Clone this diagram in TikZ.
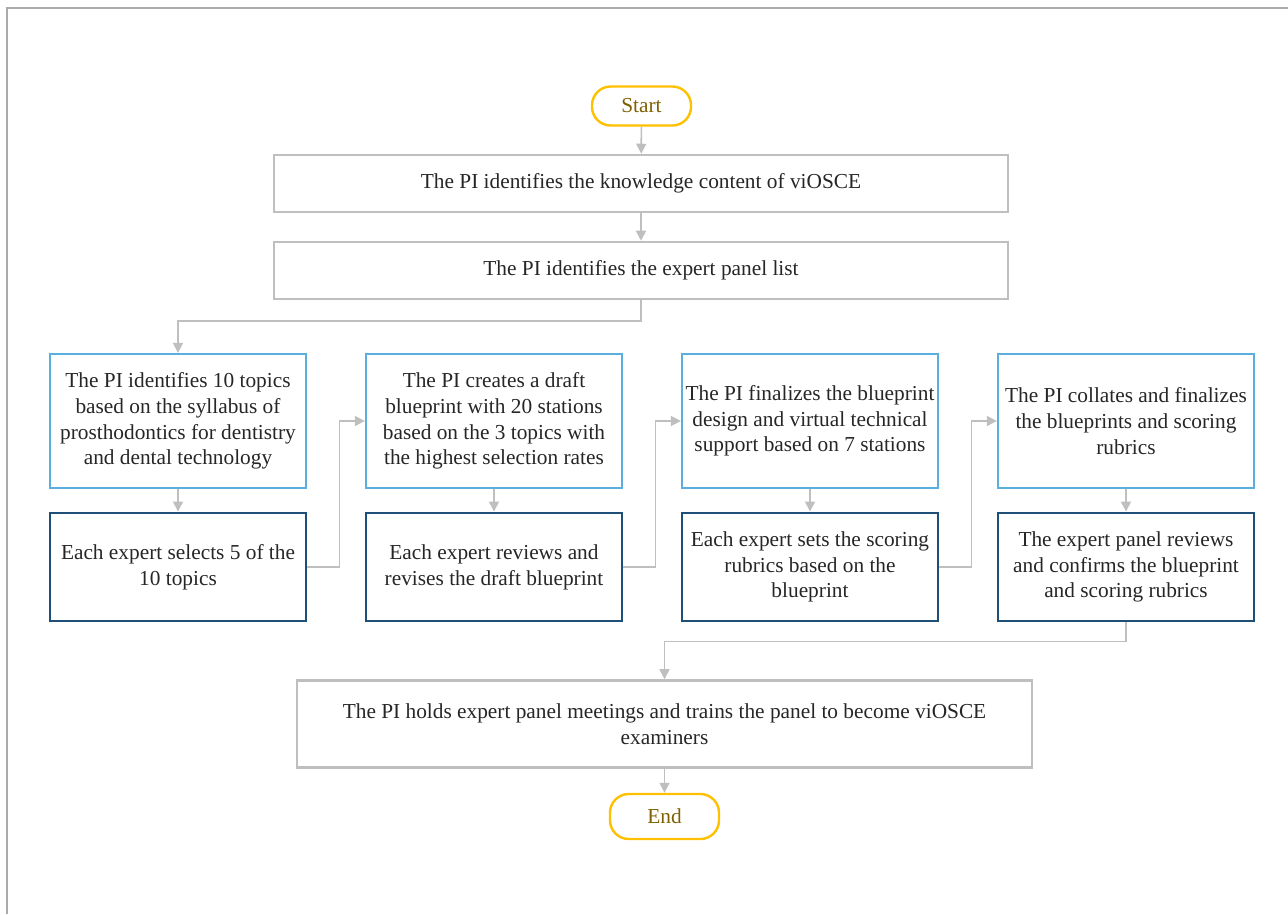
\documentclass[tikz,border=0pt]{standalone}
\usepackage{fontspec}
\setmainfont{Liberation Serif}
\usetikzlibrary{arrows.meta}
\definecolor{gbox}{HTML}{BFBFBF}
\definecolor{lblue}{HTML}{5AAFDF}
\definecolor{dblue}{HTML}{1F4E79}
\definecolor{gold}{HTML}{FFC000}
\definecolor{tbrown}{HTML}{7F6000}
\definecolor{txt}{HTML}{262626}
\definecolor{framec}{HTML}{ABABAB}
\tikzset{
  base/.style={rectangle, inner sep=0pt, align=center, text=txt,
    font=\fontsize{16}{19.3}\selectfont},
  graybox/.style={base, draw=gbox, line width=1.9pt},
  bluebox/.style={base, draw=lblue, line width=1.7pt, minimum width=192pt, minimum height=100.5pt},
  darkbox/.style={base, draw=dblue, line width=2.2pt, minimum width=192pt, minimum height=81pt},
  term/.style={base, draw=gold, line width=1.8pt, rounded corners=14pt, text=tbrown},
  conn/.style={draw=gbox, line width=1.2pt, -{Triangle[length=7.5pt,width=7.5pt]}},
}
\begin{document}
\begin{tikzpicture}[x=0.75pt, y={(0pt,-0.75pt)}]
\useasboundingbox (0,0) rectangle (1288,914);
\draw[framec, line width=0.8pt] (7,914) -- (7,8) -- (1288,8);

\node[term, minimum width=74.25pt, minimum height=29.25pt] (start) at (641.5,106) {Start};
\node[graybox, minimum width=550.5pt, minimum height=42.75pt] (k1) at (641,183.5) {The PI identifies the knowledge content of viOSCE};
\node[graybox, minimum width=550.5pt, minimum height=42.75pt] (k2) at (641,270.5) {The PI identifies the expert panel list};

\node[bluebox] (a1) at (178,421) {The PI identifies 10 topics\\based on the syllabus of\\prosthodontics for dentistry\\and dental technology};
\node[bluebox] (b1) at (494,421) {The PI creates a draft\\blueprint with 20 stations\\based on the 3 topics with\\the highest selection rates};
\node[bluebox] (c1) at (810,421) {The PI finalizes the blueprint\\design and virtual technical\\support based on 7 stations};
\node[bluebox] (d1) at (1126,421) {The PI collates and finalizes\\the blueprints and scoring\\rubrics};

\node[darkbox] (a2) at (178,567) {Each expert selects 5 of the\\10 topics};
\node[darkbox] (b2) at (494,567) {Each expert reviews and\\revises the draft blueprint};
\node[darkbox] (c2) at (810,567) {Each expert sets the scoring\\rubrics based on the\\blueprint};
\node[darkbox] (d2) at (1126,567) {The expert panel reviews\\and confirms the blueprint\\and scoring rubrics};

\node[graybox, minimum width=551.25pt, minimum height=65.25pt] (fin) at (664.5,724) {The PI holds expert panel meetings and trains the panel to become viOSCE\\examiners};
\node[term, minimum width=81.75pt, minimum height=33.75pt] (end) at (664.5,816.5) {End};

\draw[conn] (start) -- (k1);
\draw[conn] (k1) -- (k2);
\draw[conn] (k2.south) -- ++(0,21) -| (a1.north);
\draw[conn] (a1) -- (a2);
\draw[conn] (b1) -- (b2);
\draw[conn] (c1) -- (c2);
\draw[conn] (d1) -- (d2);
\draw[conn] (a2.east) -- ++(32,0) |- (b1.west);
\draw[conn] (b2.east) -- ++(32,0) |- (c1.west);
\draw[conn] (c2.east) -- ++(32,0) |- (d1.west);
\draw[conn] (d2.south) -- ++(0,19) -| (fin.north);
\draw[conn] (fin) -- (end);
\end{tikzpicture}
\end{document}
